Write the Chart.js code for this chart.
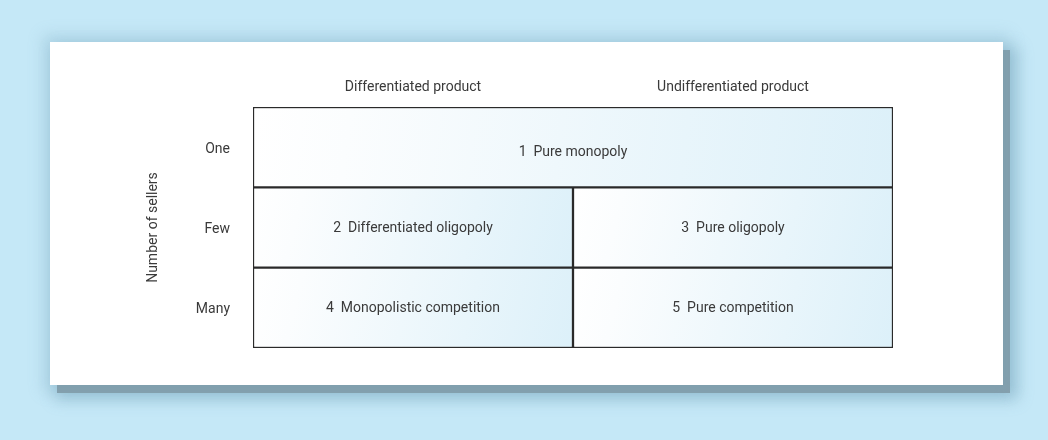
<!DOCTYPE html>
<html>
<head>
<meta charset="utf-8">
<script src="https://cdn.jsdelivr.net/npm/chart.js@4"></script>
<style>
  html, body { margin: 0; padding: 0; }
  body { width: 1048px; height: 440px; background: #c5e8f7; position: relative; overflow: hidden; }
  .card {
    position: absolute; left: 50px; top: 42px; width: 953px; height: 343px; background: #fff;
    box-shadow: 0 0 14px 7px rgba(110, 160, 185, 0.25), 7px 8px 0 0 #86a0ad, 10px 10px 14px 5px rgba(100, 150, 175, 0.4);
  }
  .card .wrap { position: relative; width: 953px; height: 343px; }
</style>
</head>
<body>
<div class="card"><div class="wrap"><canvas id="market-chart"></canvas></div></div>
<script>
const rowLabels = ['One', 'Few', 'Many'];
const colLabels = ['Differentiated product', 'Undifferentiated product'];
const axisTitle = 'Number of sellers';

// each cell spans [from, to] columns
const leftCells = [[0, 2], [0, 1], [0, 1]];
const rightCells = [null, [1, 2], [1, 2]];
const leftNames = ['1  Pure monopoly', '2  Differentiated oligopoly', '4  Monopolistic competition'];
const rightNames = [null, '3  Pure oligopoly', '5  Pure competition'];

function cellFill(context) {
  const chart = context.chart;
  const raw = context.raw;
  if (!raw || !chart.chartArea) return '#eef7fc';
  const xs = chart.scales.x, ys = chart.scales.y;
  const x0 = xs.getPixelForValue(raw[0]);
  const x1 = xs.getPixelForValue(raw[1]);
  const yc = ys.getPixelForValue(context.dataIndex);
  const h = ys.height / rowLabels.length;
  const g = chart.ctx.createLinearGradient(x0, yc - h / 2, x1, yc + h / 2);
  g.addColorStop(0, '#ffffff');
  g.addColorStop(0.15, '#fbfdfe');
  g.addColorStop(1, '#dcf0f9');
  return g;
}

const cellText = {
  id: 'cellText',
  afterDatasetsDraw(chart) {
    const ctx = chart.ctx;
    ctx.save();
    ctx.font = '14px Roboto';
    ctx.fillStyle = '#3a3a3a';
    ctx.textAlign = 'center';
    ctx.textBaseline = 'middle';
    chart.data.datasets.forEach((ds, di) => {
      chart.getDatasetMeta(di).data.forEach((bar, i) => {
        const name = ds.names[i];
        if (!name) return;
        const p = bar.getProps(['x', 'y', 'base'], true);
        // the top (merged) row sits its label a little low in the original
        const dy = i === 0 ? 5 : 1;
        ctx.fillText(name, (p.x + p.base) / 2, p.y + dy);
      });
    });
    ctx.restore();
  }
};

Chart.defaults.font.family = 'Roboto';
Chart.defaults.font.size = 14;
Chart.defaults.color = '#3a3a3a';

const commonBar = {
  backgroundColor: cellFill,
  borderColor: '#2a2a2a',
  borderWidth: 1.5,
  borderSkipped: false,
  barPercentage: 1,
  categoryPercentage: 1,
  grouped: false
};

new Chart(document.getElementById('market-chart'), {
  type: 'bar',
  data: {
    labels: rowLabels,
    datasets: [
      Object.assign({ label: 'left', data: leftCells, names: leftNames }, commonBar),
      Object.assign({ label: 'right', data: rightCells, names: rightNames }, commonBar)
    ]
  },
  options: {
    indexAxis: 'y',
    responsive: true,
    maintainAspectRatio: false,
    animation: false,
    layout: { padding: { left: 0, top: 0, right: 110, bottom: 37 } },
    plugins: { legend: { display: false }, tooltip: { enabled: false } },
    scales: {
      x: {
        type: 'linear',
        position: 'top',
        min: 0,
        max: 2,
        grid: { display: false, drawTicks: false },
        border: { display: false },
        afterBuildTicks: (scale) => { scale.ticks = [{ value: 0.5 }, { value: 1.5 }]; },
        afterFit: (scale) => { scale.height = 65; },
        ticks: {
          padding: 11,
          maxRotation: 0,
          autoSkip: false,
          callback: (v) => colLabels[v < 1 ? 0 : 1]
        }
      },
      y: {
        type: 'category',
        grid: { display: false, drawTicks: false },
        border: { display: false },
        afterFit: (scale) => { scale.width = 203; },
        ticks: { padding: 23, labelOffset: 2 },
        title: {
          display: true,
          text: axisTitle,
          padding: { top: 95, bottom: 0 }
        }
      }
    }
  },
  plugins: [cellText]
});
</script>
</body>
</html>
